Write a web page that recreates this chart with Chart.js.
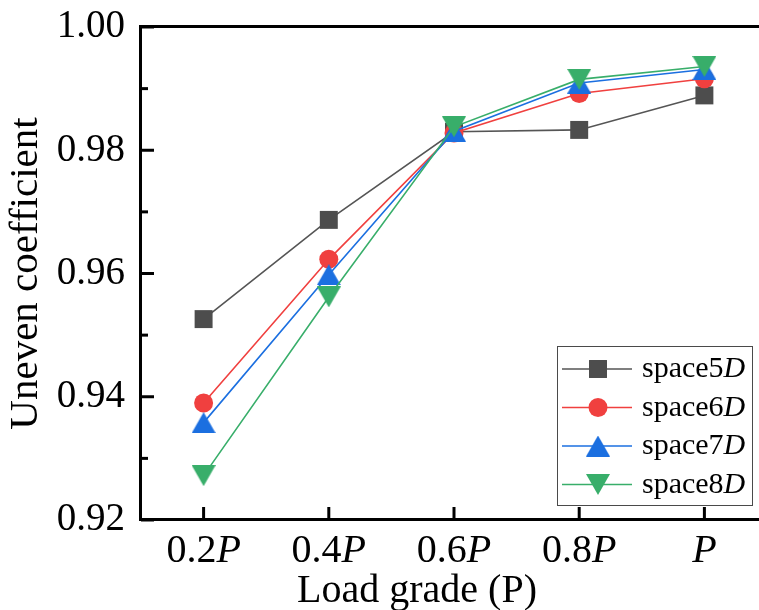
<!DOCTYPE html>
<html>
<head>
<meta charset="utf-8">
<script src="https://cdn.jsdelivr.net/npm/chart.js@4/dist/chart.umd.min.js"></script>
<style>
  html, body { margin: 0; padding: 0; background: #fff; overflow: hidden; }
  #wrap { width: 768px; height: 610px; }
</style>
</head>
<body>
<div id="wrap"><canvas id="c" width="768" height="610"></canvas></div>
<script>
// ---- data ----
const categories = ['0.2P', '0.4P', '0.6P', '0.8P', 'P'];
const space5D = [0.9526, 0.9687, 0.9830, 0.9833, 0.9889];
const space6D = [0.9390, 0.9623, 0.9828, 0.9892, 0.9916];
const space7D = [0.9358, 0.9598, 0.9831, 0.9909, 0.9931];
const space8D = [0.9272, 0.9562, 0.9838, 0.9915, 0.9936];
const seriesNames = ['space5D', 'space6D', 'space7D', 'space8D'];
const yTickValues = [0.92, 0.94, 0.96, 0.98, 1.00];
const yMinorTicks = [0.93, 0.95, 0.97, 0.99];
const yTitle = 'Uneven coefficient';
const xTitle = 'Load grade (P)';

const SERIF = '"Liberation Serif", "Times New Roman", serif';

function splitItalic(label) {
  const m = label.match(/^(.*?)([A-Z])$/);
  return m ? [m[1], m[2]] : [label, ''];
}

// triangle marker images, centred on their bounding box
function triangleImage(color, down) {
  const w = 24, h = 21;
  const cv = document.createElement('canvas');
  cv.width = w; cv.height = h;
  const c = cv.getContext('2d');
  c.fillStyle = color;
  c.beginPath();
  if (down) { c.moveTo(0, 0); c.lineTo(w, 0); c.lineTo(w / 2, h); }
  else { c.moveTo(w / 2, 0); c.lineTo(w, h); c.lineTo(0, h); }
  c.closePath();
  c.fill();
  return cv;
}

function drawMarker(ctx, style, radius, x, y) {
  if (style instanceof HTMLCanvasElement) {
    ctx.drawImage(style, x - style.width / 2, y - style.height / 2);
    return;
  }
  ctx.beginPath();
  if (style === 'rect') {
    const s = Math.SQRT1_2 * radius;
    ctx.rect(x - s, y - s, 2 * s, 2 * s);
  } else {
    ctx.arc(x, y, radius, 0, Math.PI * 2);
  }
  ctx.fill();
}

const framePlugin = {
  id: 'framePlugin',
  afterDraw(chart) {
    const ctx = chart.ctx;
    const a = chart.chartArea;
    const xs = chart.scales.x, ys = chart.scales.y;
    ctx.save();
    ctx.strokeStyle = '#000';
    ctx.lineWidth = 3;
    ctx.lineJoin = 'miter';
    ctx.strokeRect(a.left - 0.5, a.top - 0.5, a.right - a.left + 0.5, a.bottom - a.top);
    yTickValues.forEach(v => {
      const py = ys.getPixelForValue(v);
      ctx.beginPath(); ctx.moveTo(a.left, py); ctx.lineTo(a.left + 13, py); ctx.stroke();
    });
    yMinorTicks.forEach(v => {
      const py = ys.getPixelForValue(v);
      ctx.beginPath(); ctx.moveTo(a.left, py); ctx.lineTo(a.left + 7, py); ctx.stroke();
    });
    categories.forEach((c, i) => {
      const px = xs.getPixelForValue(i);
      ctx.beginPath(); ctx.moveTo(px, a.bottom); ctx.lineTo(px, a.bottom - 13); ctx.stroke();
    });
    ctx.fillStyle = '#000';
    ctx.textBaseline = 'alphabetic';
    ctx.textAlign = 'left';
    categories.forEach((c, i) => {
      const [plain, ital] = splitItalic(c);
      ctx.font = '40px ' + SERIF;
      const w1 = ctx.measureText(plain).width;
      ctx.font = 'italic 40px ' + SERIF;
      const w2 = ctx.measureText(ital).width;
      const px = xs.getPixelForValue(i);
      let sx = px - (w1 + w2) / 2;
      ctx.font = '40px ' + SERIF;
      ctx.fillText(plain, sx, 562);
      ctx.font = 'italic 40px ' + SERIF;
      ctx.fillText(ital, sx + w1, 562);
    });
    ctx.font = '40px ' + SERIF;
    ctx.textAlign = 'center';
    ctx.fillText(xTitle, 417, 602);

    const lx = 557, ly = 346, lw = 195, lh = 159;
    ctx.fillStyle = '#fff';
    ctx.fillRect(lx, ly, lw, lh);
    ctx.strokeStyle = '#4a4a4a';
    ctx.lineWidth = 1;
    ctx.strokeRect(lx + 0.5, ly + 0.5, lw, lh);
    const rowY = [369, 407.5, 446, 484.5];
    chart.data.datasets.forEach((ds, i) => {
      const yy = rowY[i];
      ctx.strokeStyle = ds.borderColor;
      ctx.lineWidth = ds.borderWidth;
      ctx.beginPath(); ctx.moveTo(562, yy); ctx.lineTo(632, yy); ctx.stroke();
      ctx.fillStyle = ds.pointBackgroundColor;
      drawMarker(ctx, ds.pointStyle, ds.pointRadius, 598, yy);
      const [plain, ital] = splitItalic(ds.label);
      ctx.fillStyle = '#000';
      ctx.textAlign = 'left';
      ctx.textBaseline = 'alphabetic';
      ctx.font = '30px ' + SERIF;
      ctx.fillText(plain, 642, yy + 8);
      const w1 = ctx.measureText(plain).width;
      ctx.font = 'italic 30px ' + SERIF;
      ctx.fillText(ital, 642 + w1, yy + 8);
    });
    ctx.restore();
  }
};

const styles = [
  { line: '#555555', fill: '#4d4d4d', shape: 'rect', r: 12.7 },
  { line: '#f0403f', fill: '#f0403f', shape: 'circle', r: 9.5 },
  { line: '#1b6fe0', fill: '#1b6fe0', shape: triangleImage('#1b6fe0', false), r: 12 },
  { line: '#38ae6a', fill: '#38ae6a', shape: triangleImage('#38ae6a', true), r: 12 }
];
const allSeries = [space5D, space6D, space7D, space8D];

const datasets = allSeries.map((vals, i) => ({
  label: seriesNames[i],
  data: vals,
  borderColor: styles[i].line,
  backgroundColor: styles[i].fill,
  pointBackgroundColor: styles[i].fill,
  pointBorderWidth: 0,
  pointBorderColor: styles[i].fill,
  pointStyle: styles[i].shape,
  pointRadius: styles[i].r,
  pointHoverRadius: styles[i].r,
  borderWidth: 1.6,
  tension: 0,
  fill: false,
  order: 3 - i,
  clip: false
}));

new Chart(document.getElementById('c'), {
  type: 'line',
  data: { labels: categories, datasets: datasets },
  options: {
    responsive: false,
    animation: false,
    devicePixelRatio: 1,
    layout: { autoPadding: false, padding: { left: 0, right: 1, top: 27, bottom: 0 } },
    plugins: { legend: { display: false }, tooltip: { enabled: false } },
    scales: {
      x: {
        type: 'category',
        offset: true,
        grid: { display: false, drawTicks: false },
        border: { display: false },
        ticks: { display: false },
        title: { display: false },
        afterFit(scale) { scale.height = 90; }
      },
      y: {
        min: 0.92,
        max: 1.00,
        grid: { display: false, drawTicks: false },
        border: { display: false },
        afterBuildTicks(scale) { scale.ticks = yTickValues.map(v => ({ value: v })); },
        ticks: {
          color: '#000',
          padding: 16,
          font: { family: SERIF, size: 39, lineHeight: 0.5 },
          callback: v => Number(v).toFixed(2)
        },
        title: {
          display: true,
          text: yTitle,
          color: '#000',
          font: { family: SERIF, size: 41 },
          padding: { top: 2, bottom: 0 }
        },
        afterFit(scale) { scale.width = 141; }
      }
    }
  },
  plugins: [framePlugin]
});
</script>
</body>
</html>
